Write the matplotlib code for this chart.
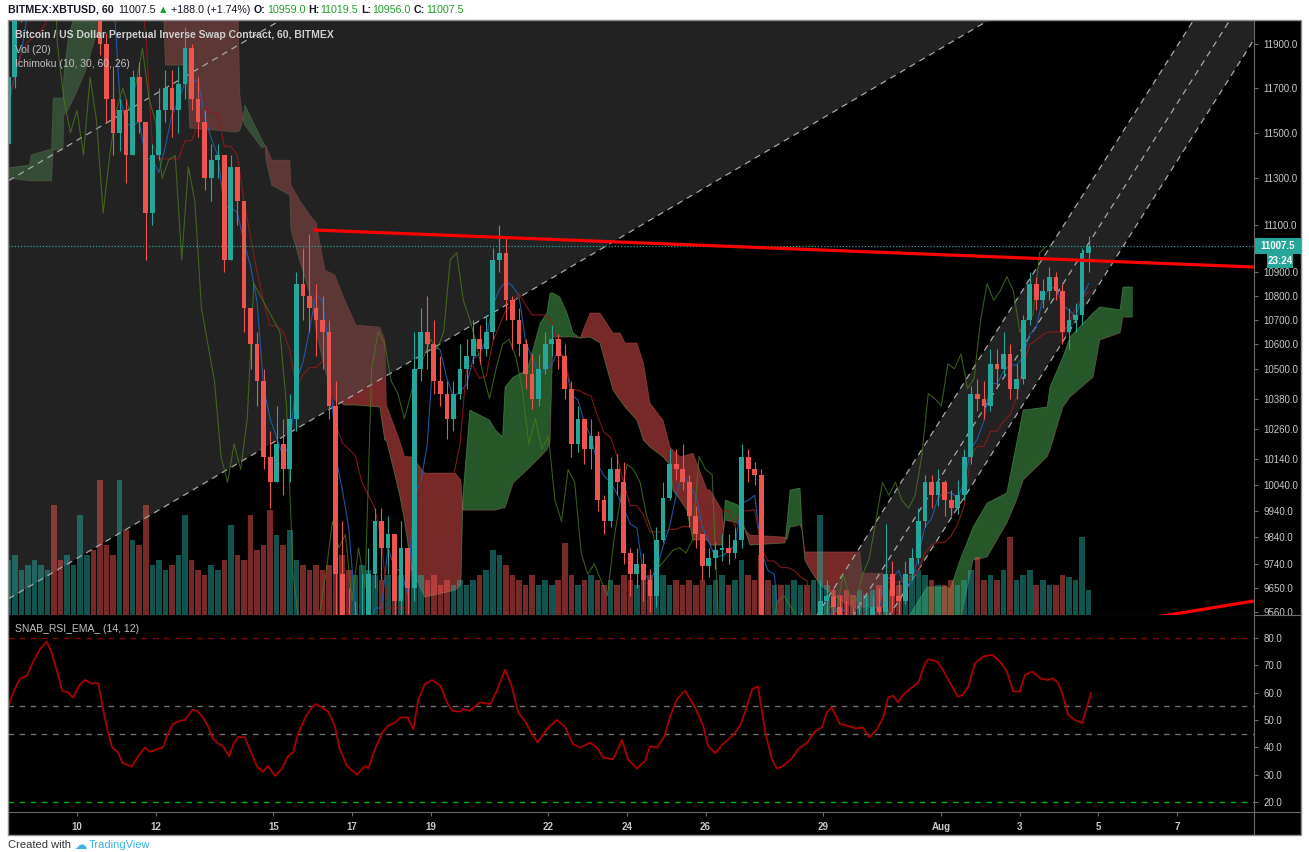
import numpy as np
import pandas as pd
import matplotlib
matplotlib.use("Agg")
import matplotlib.pyplot as plt
import matplotlib.transforms as mtransforms
from matplotlib.collections import PolyCollection, LineCollection
from matplotlib.patches import Rectangle
from matplotlib.lines import Line2D
from matplotlib.ticker import FixedLocator, FixedFormatter, NullLocator

plt.rcParams['font.family'] = ['Liberation Sans', 'DejaVu Sans']

# ---------------------------------------------------------------- DATA
# 4-hour bars; time measured in hours from Jul 8 2019 00:00
bar_hours = 4
first_bar_hour = 4
first_open = 11450

closes = [
    11750, 12050, 12250, 12300, 12350, 12400, 12500, 12450, 12300, 12350,
    12500, 12800, 13000, 12900, 11900, 11650, 11500, 11600, 11400, 11750,
    11550, 11150, 11400, 11600, 11700, 11600, 11720, 11880, 11650, 11550,
    11300, 11380, 11400, 10950, 11350, 11200, 10750, 10600, 10450, 10150,
    10050, 10200, 10100, 10300, 10850, 10800, 10750, 10700, 10650, 10350,
    9700, 9500, 9400, 9450, 9550, 9700, 9900, 9800, 9850, 9600,
    9800, 9650, 10500, 10650, 10600, 10450, 10400, 10300, 10400, 10500,
    10550, 10620, 10580, 10650, 10950, 10980, 10780, 10700, 10600, 10480,
    10380, 10500, 10600, 10620, 10550, 10420, 10200, 10300, 10180, 10230,
    9980, 9900, 10100, 10050, 9780, 9700, 9740, 9680, 9620, 9830,
    9990, 10120, 10100, 10050, 9920, 9850, 9730, 9760, 9790, 9800,
    9780, 9830, 10150, 10100, 10080, 9500, 9400, 9450, 9350, 9400,
    9450, 9500, 9420, 9480, 9600, 9620, 9580, 9540, 9520, 9500,
    9530, 9550, 9580, 9560, 9700, 9620, 9600, 9700, 9760, 9900,
    10050, 10000, 10050, 9980, 9950, 10000, 10150, 10400, 10380, 10350,
    10520, 10500, 10560, 10420, 10460, 10700, 10850, 10780, 10820, 10880,
    10820, 10650, 10700, 10720, 10980, 11007.5]

highs = [
    11800, 12100, 12300, 12400, 12450, 12500, 12600, 12550, 12500, 12450,
    12600, 12900, 13150, 13100, 12950, 11950, 11800, 11650, 11650, 11780,
    11820, 11550, 11450, 11700, 11780, 11780, 11800, 11980, 11900, 11750,
    11600, 11450, 11450, 11400, 11400, 11350, 11200, 10750, 10650, 10500,
    10250, 10350, 10300, 10400, 10900, 11000, 11060, 10850, 10800, 10700,
    10450, 9900, 9650, 9600, 9700, 9800, 9950, 9950, 9920, 9850,
    9900, 9800, 10650, 10750, 10800, 10700, 10550, 10450, 10450, 10600,
    10620, 10700, 10680, 10720, 11000, 11100, 11050, 10800, 10750, 10620,
    10560, 10560, 10650, 10680, 10640, 10600, 10450, 10350, 10300, 10300,
    10250, 10000, 10150, 10160, 10130, 9800, 9800, 9780, 9720, 9880,
    10050, 10180, 10180, 10200, 10080, 9960, 9850, 9800, 9820, 9850,
    9850, 9880, 10200, 10180, 10130, 10100, 9550, 9550, 9480, 9470,
    9520, 9560, 9530, 9540, 9680, 9680, 9650, 9620, 9600, 9580,
    9600, 9620, 9620, 9650, 9890, 9750, 9680, 9750, 9800, 9950,
    10080, 10080, 10100, 10060, 10020, 10060, 10180, 10430, 10460, 10450,
    10580, 10580, 10650, 10600, 10520, 10720, 10900, 10880, 10870, 10920,
    10900, 10850, 10750, 10770, 11000, 11050]

lows = [
    11420, 11700, 12000, 12200, 12250, 12300, 12350, 12350, 12250, 12250,
    12300, 12450, 12750, 12800, 11850, 11550, 11400, 11420, 11280, 11400,
    11500, 10950, 11100, 11380, 11550, 11480, 11500, 11650, 11600, 11480,
    11250, 11200, 11300, 10900, 10950, 11100, 10650, 10500, 10350, 10100,
    9950, 10050, 10000, 10050, 10250, 10700, 10650, 10550, 10500, 10300,
    9500, 9350, 9300, 9250, 9300, 9200, 9650, 9680, 9700, 9500,
    9550, 9350, 9600, 10450, 10500, 10400, 10350, 10220, 10250, 10380,
    10420, 10520, 10520, 10550, 10620, 10900, 10700, 10580, 10550, 10420,
    10340, 10350, 10480, 10550, 10500, 10380, 10150, 10170, 10120, 10100,
    9940, 9850, 9880, 10000, 9740, 9620, 9650, 9600, 9560, 9580,
    9820, 9980, 10060, 10020, 9880, 9800, 9680, 9690, 9720, 9750,
    9740, 9760, 9800, 10050, 10040, 9400, 9300, 9350, 9250, 9300,
    9350, 9400, 9380, 9400, 9450, 9550, 9520, 9480, 9460, 9450,
    9470, 9480, 9500, 9480, 9540, 9560, 9540, 9590, 9680, 9740,
    9880, 9950, 9960, 9920, 9920, 9930, 9980, 10120, 10330, 10300,
    10330, 10430, 10470, 10380, 10380, 10440, 10680, 10740, 10750, 10780,
    10780, 10600, 10580, 10650, 10680, 10900]

volumes = [
    55, 60, 45, 50, 55, 50, 45, 110, 55, 60,
    50, 100, 60, 65, 135, 70, 60, 135, 85, 75,
    70, 110, 50, 55, 45, 50, 60, 100, 55, 45,
    40, 50, 45, 55, 90, 60, 55, 100, 65, 70,
    105, 80, 70, 85, 55, 50, 45, 50, 45, 50,
    90, 60, 45, 40, 50, 45, 40, 35, 40, 45,
    40, 55, 70, 40, 35, 40, 30, 35, 30, 35,
    30, 35, 40, 45, 65, 60, 50, 40, 35, 30,
    40, 30, 35, 30, 35, 72, 40, 30, 35, 40,
    35, 30, 35, 30, 40, 35, 30, 35, 40, 35,
    40, 30, 35, 30, 35, 30, 35, 30, 35, 40,
    30, 35, 55, 40, 35, 60, 35, 30, 30, 30,
    35, 30, 30, 35, 100, 30, 25, 20, 25, 20,
    25, 20, 25, 30, 40, 25, 30, 35, 40, 45,
    40, 35, 30, 30, 35, 30, 35, 45, 58, 35,
    40, 35, 45, 78, 35, 40, 45, 30, 35, 30,
    30, 40, 38, 35, 78, 25]

# Ichimoku cloud: (hour, leading span A, leading span B)
cloud_points = [
    (6, 11345, 11301), (19, 11358, 11288), (20, 11402, 11288), (32.5, 11428, 11288),
    (33.5, 11655, 11424), (39.5, 11655, 11424), (40, 11759, 11579), (42.5, 11919, 11601),
    (47, 12050, 11669), (53, 12200, 11772), (62, 12400, 12000), (86, 12500, 12200),
    (100, 12250, 12250), (102, 11804, 12350), (115, 11804, 12350), (117, 11521, 12300),
    (146, 11503, 12200), (147.5, 11512, 11669), (149.5, 11560, 11560), (150.5, 11624, 11534),
    (161, 11468, 11432), (163, 11441, 11441), (163.5, 11379, 11441), (167, 11270, 11379),
    (178, 11227, 11379), (178.7, 11077, 11270), (184, 10949, 11205), (191.5, 10782, 11128),
    (194, 10658, 11111), (199.5, 10495, 10907), (205.5, 10374, 10886), (211.5, 10354, 10782),
    (218.5, 10354, 10678), (233, 10346, 10670), (236, 10215, 10617), (237, 10215, 10354),
    (245, 10005, 10215), (248, 9905, 10152), (252.5, 9716, 10149), (260.5, 9615, 10086),
    (279, 9641, 10086), (282.5, 9660, 10059), (283.8, 10001, 9943), (288, 10334, 9943),
    (300, 10294, 9943), (303.5, 10255, 9943), (308, 10227, 9951), (309.5, 10426, 9951),
    (314.5, 10466, 10048), (323, 10495, 10098), (331, 10686, 10149), (335, 10728, 10176),
    (337, 10811, 10203), (338.8, 10811, 10629), (343, 10794, 10629), (347.3, 10728, 10629),
    (351, 10646, 10629), (355.3, 10625, 10625), (361.4, 10629, 10728), (367.5, 10605, 10728),
    (375.4, 10414, 10646), (379.7, 10374, 10646), (382.8, 10346, 10605), (390, 10294, 10605),
    (394, 10215, 10524), (398, 10188, 10362), (406, 10149, 10294), (410.3, 10117, 10188),
    (412, 10020, 10176), (416.5, 9982, 10149), (420.5, 9943, 10156), (424.3, 9829, 10164),
    (433, 9829, 10020), (434.7, 9810, 10020), (442, 9810, 9943), (443, 9870, 9870),
    (444, 9982, 9905), (452, 9962, 9893), (456, 9870, 9870), (459, 9810, 9848),
    (480.5, 9818, 9840), (481.7, 9893, 9829), (483.6, 10020, 9878), (489.7, 10028, 9886),
    (491, 9867, 9867), (492.7, 9753, 9784), (496, 9716, 9784), (502, 9660, 9784),
    (514, 9604, 9784), (526.3, 9567, 9784), (527.6, 9578, 9704), (540.4, 9578, 9704),
    (544.7, 9450, 9520), (549, 9485, 9485), (553.8, 9520, 9450), (567.3, 9653, 9500),
    (579.5, 9653, 9500), (581.3, 9641, 9500), (587.4, 9753, 9520), (595.4, 9878, 9753),
    (604, 9970, 9765), (616, 10009, 9893), (622, 10203, 9982), (626, 10334, 10059),
    (640.6, 10346, 10149), (642.4, 10426, 10176), (650.3, 10548, 10346), (654.6, 10629, 10386),
    (668.7, 10728, 10466), (672.9, 10753, 10617), (685.2, 10741, 10646), (687, 10836, 10711),
    (693, 10836, 10711)]

# SNAB_RSI_EMA line: (hour, value)
rsi_points = [
    (6, 54.6), (9, 60), (13, 65), (17.5, 66.2), (21, 71), (25.5, 76), (29.5, 78.7),
    (32.5, 74.7), (36, 67.4), (39, 60.7), (42.5, 60), (45.5, 58.2), (50, 63.1), (53, 64.6),
    (57, 63.4), (61, 63.4), (63.5, 55.2), (66.5, 46.6), (69.5, 39.9), (73, 38.1), (76, 34.2),
    (81.5, 32.9), (85.5, 36.8), (89.5, 39.9), (92.5, 38.3), (97, 39.3), (100.5, 39.9),
    (103, 44.2), (106.5, 48.5), (111, 49.7), (114, 50), (118.5, 53.7), (121.5, 53.3),
    (125, 50.9), (128, 47.8), (131, 43.2), (134, 41.4), (137, 40.5), (141, 36.6), (143.5, 41.1),
    (146.5, 43.8), (150.5, 43.6), (153.5, 39.3), (158, 32.9), (161.5, 31), (164.5, 33.2),
    (169, 29.5), (173, 32), (177, 36.8), (180, 38.1), (183, 44.8), (187.5, 50.9), (191.5, 54.6),
    (193.5, 55.8), (197.5, 54.6), (201.5, 53), (205.5, 47.8), (208.5, 39.3), (213, 33.2),
    (219, 29.9), (224, 33.2), (226, 32.2), (230, 39.3), (234.5, 45.4), (238, 47.8), (242.5, 49.1),
    (245.5, 50.9), (250, 50.9), (253.5, 46.6), (256.5, 57.6), (260.5, 63.1), (265, 64.6),
    (270, 62.5), (274.5, 55.8), (277.5, 53.3), (282, 53), (284, 54), (288, 53.3), (294, 56.4),
    (300.5, 55.8), (304.5, 60.7), (309.5, 68.4), (313.5, 62.5), (317.5, 52.7), (321.5, 49.7),
    (326, 44.8), (329.5, 41.7), (335, 46.6), (341, 50), (346, 47.6), (351, 41.1), (355.5, 39.9),
    (361.5, 41.7), (365.5, 39.9), (369.5, 36.2), (375.5, 35.6), (381, 42.7), (384.5, 35.6),
    (390, 32.2), (395, 35), (398, 40.3), (402.5, 39.9), (407, 44.2), (410.5, 51.5), (414.5, 57.6),
    (419.5, 60.7), (425.5, 54.6), (430.5, 47.8), (433.5, 40.5), (438, 37.8), (442.5, 41.1),
    (448.5, 44.2), (453, 47.8), (456, 52.7), (460.5, 61.3), (464, 62.3), (468.5, 45.4),
    (472.5, 35.6), (475.5, 32.2), (479.5, 33.2), (485, 36.2), (488.5, 39.3), (494, 41.7),
    (499, 46), (503, 47.2), (506, 52.7), (509, 54.6), (514, 48.5), (519, 47.8), (523.5, 46.9),
    (528, 47.2), (532, 43.6), (536.5, 46.4), (540.5, 50.9), (543.5, 58.2), (546.5, 58.9),
    (549.5, 56.4), (552.5, 59.1), (558, 61.9), (562, 63.7), (566, 70.7), (568, 72.2),
    (573.5, 71.3), (577, 68.3), (581.5, 63.4), (586, 58.5), (589, 59.1), (592.5, 62.2),
    (596.5, 70.7), (601.5, 73.2), (607, 73.8), (612, 71.3), (616, 67.7), (620, 60.4),
    (624, 60.4), (627, 66.5), (631.5, 67.7), (636.5, 65.2), (641, 64.6), (644, 65.2),
    (647.5, 63.4), (650.5, 58.5), (653.5, 51.8), (657.5, 50), (662, 48.8), (665, 54.9),
    (667.5, 59.8)]

day_tick_hours = [48, 96, 168, 216, 264, 336, 384, 432, 504, 576, 624, 672, 720]
day_tick_labels = ['10', '12', '15', '17', '19', '22', '24', '26', '29', 'Aug', '3', '5', '7']
price_ticks = [9560, 9650, 9740, 9840, 9940, 10040, 10140, 10260, 10380, 10500,
               10600, 10700, 10800, 10900, 11100, 11300, 11500, 11700, 11900]
rsi_ticks = [20, 30, 40, 50, 60, 70, 80]
rsi_levels = [80, 55, 45, 20]

last_price = 11007.5
bar_countdown = '23:24'

# drawings (hour, price)
resistance_line = [(192.2, 11077), (767.0, 10920)]
support_line = [(703.5, 9538), (767.0, 9601)]
left_channel = [(5.9, 9608), (605.1, 12011)]
left_channel_ratio = 1.3803
right_channel = [(500.1, 9549), (730.1, 12011)]
right_channel_ratio = 1.0453

header_runs = [("BITMEX:XBTUSD, 60", 'dark', 'bold', 4),
               ("11007.5", 'dark', 'normal', 3),
               ("\u25B2", 'green', 'normal', 2),
               ("+188.0 (+1.74%)", 'dark', 'normal', 4),
               ("O:", 'dark', 'bold', 1), ("10959.0", 'green', 'normal', 3),
               ("H:", 'dark', 'bold', 1), ("11019.5", 'green', 'normal', 3),
               ("L:", 'dark', 'bold', 1), ("10956.0", 'green', 'normal', 3),
               ("C:", 'dark', 'bold', 1), ("11007.5", 'green', 'normal', 0)]

# ---------------------------------------------------------------- STYLE
UP = '#26a69a'
DOWN = '#ef5350'
TXT = '#c8c8c8'
W, H = 1309, 852


def fx(px):
    return px / W


def fy(py):
    return 1 - py / H


fig = plt.figure(figsize=(W / 100, H / 100), dpi=100)
fig.patch.set_facecolor('white')

fig.add_artist(Rectangle((fx(8), fy(835)), fx(1301) - fx(8), fy(20) - fy(835),
                         transform=fig.transFigure, facecolor='black',
                         edgecolor='none', zorder=-5))

ax = fig.add_axes([fx(8), fy(615), fx(1254) - fx(8), fy(20) - fy(615)])
ax2 = fig.add_axes([fx(8), fy(812), fx(1254) - fx(8), fy(615) - fy(812)], sharex=ax)
for a in (ax, ax2):
    a.set_facecolor('black')
    for s in a.spines.values():
        s.set_visible(False)
    a.spines['right'].set_visible(True)
    a.spines['right'].set_color('#6a6a6a')
    a.spines['bottom'].set_visible(True)
    a.spines['bottom'].set_color('#6a6a6a')

ax.set_yscale('log')
ax.set_xlim(5.86, 767.0)
ax.set_ylim(9549, 12011)

# ---------------------------------------------------------------- derived series
n = len(closes)
centers = np.array([first_bar_hour + bar_hours * i + bar_hours / 2 for i in range(n)])
c = np.array(closes, float)
o = np.concatenate([[first_open], c[:-1]])
hi = np.maximum(np.array(highs, float), np.maximum(o, c))
lo = np.minimum(np.array(lows, float), np.minimum(o, c))
up = c >= o

# ---------------------------------------------------------------- cloud
cp = np.array(cloud_points, float)
ch, ca, cb = cp[:, 0], cp[:, 1], cp[:, 2]
ax.fill_between(ch, ca, cb, where=ca >= cb, interpolate=True, color='#4caf50',
                alpha=0.5, lw=0, zorder=1)
ax.fill_between(ch, ca, cb, where=ca < cb, interpolate=True, color='#ef5350',
                alpha=0.5, lw=0, zorder=1)
ax.plot(ch, ca, color='#66bb6a', lw=0.6, alpha=0.45, zorder=1.2)
ax.plot(ch, cb, color='#e57373', lw=0.6, alpha=0.35, zorder=1.2)


# ---------------------------------------------------------------- channels
def line_at(pts, h):
    (h1, p1), (h2, p2) = pts
    return np.exp(np.log(p1) + (np.asarray(h) - h1) * (np.log(p2) - np.log(p1)) / (h2 - h1))


DASH = dict(color='#a8a8a8', lw=0.9, dashes=(5, 4), zorder=4)

hs = np.array([0.0, 760.0])
low = line_at(left_channel, hs)
upp = low * left_channel_ratio
ax.fill([hs[0], hs[1], hs[1], hs[0]], [low[0], low[1], upp[1], upp[0]],
        color='#444444', alpha=0.5, lw=0, zorder=2)
ax.plot(hs, low, **DASH)
ax.plot(hs, low * np.sqrt(left_channel_ratio), **DASH)

hs = np.array([470.0, 780.0])
upl = line_at(right_channel, hs)
lwr = upl / right_channel_ratio
ax.fill([hs[0], hs[1], hs[1], hs[0]], [lwr[0], lwr[1], upl[1], upl[0]],
        color='#444444', alpha=0.5, lw=0, zorder=2)
ax.plot(hs, upl, **DASH)
ax.plot(hs, lwr, **DASH)
ax.plot(hs, upl / np.sqrt(right_channel_ratio), **DASH)

# ---------------------------------------------------------------- volume
vol = np.array(volumes, float)
vfrac = vol / vol.max() * 0.227
blend = mtransforms.blended_transform_factory(ax.transData, ax.transAxes)
vw = 1.7
vverts = [[(x - vw, 0), (x + vw, 0), (x + vw, v), (x - vw, v)] for x, v in zip(centers, vfrac)]
vcols = [(0.149, 0.651, 0.604, 0.5) if u else (0.937, 0.325, 0.314, 0.5) for u in up]
ax.add_collection(PolyCollection(vverts, facecolors=vcols, edgecolors='none',
                                 transform=blend, zorder=3), autolim=False)

# ---------------------------------------------------------------- ichimoku lines
s_hi, s_lo = pd.Series(hi), pd.Series(lo)
conv = (s_hi.rolling(3, min_periods=1).max() + s_lo.rolling(3, min_periods=1).min()) / 2
base = (s_hi.rolling(8, min_periods=1).max() + s_lo.rolling(8, min_periods=1).min()) / 2
ax.plot(centers, conv, color='#1f5fb0', lw=0.8, alpha=0.9, zorder=4)
ax.plot(centers, base, color='#8e1b1b', lw=0.8, alpha=0.9, zorder=4)
ax.plot(centers - 26, c, color='#4b7a1f', lw=0.8, alpha=0.75, zorder=4)

# ---------------------------------------------------------------- candles
bw = 1.45
colors = [UP if u else DOWN for u in up]
wicks = [[(x, l), (x, h)] for x, l, h in zip(centers, lo, hi)]
ax.add_collection(LineCollection(wicks, colors=colors, linewidths=0.8, zorder=5), autolim=False)
bodies = []
for x, oo, cc in zip(centers, o, c):
    b0, b1 = min(oo, cc), max(oo, cc)
    if b1 / b0 < 1.0006:
        b1 = b0 * 1.0006
    bodies.append([(x - bw, b0), (x + bw, b0), (x + bw, b1), (x - bw, b1)])
ax.add_collection(PolyCollection(bodies, facecolors=colors, edgecolors='none', zorder=5),
                  autolim=False)

# ---------------------------------------------------------------- trend lines
rh = np.array([p[0] for p in resistance_line])
ax.plot(rh, line_at(resistance_line, rh), color='#ff0000', lw=2.3, zorder=6,
        solid_capstyle='butt')
sh = np.array([p[0] for p in support_line])
ax.plot(sh, line_at(support_line, sh), color='#ff0000', lw=2.3, zorder=6,
        solid_capstyle='butt')

ax.axhline(last_price, color=UP, lw=0.9, ls=(0, (1, 1.5)), zorder=4)

# ---------------------------------------------------------------- main axis ticks
ax.yaxis.set_major_locator(FixedLocator(price_ticks))
ax.yaxis.set_major_formatter(FixedFormatter([f"{p:.1f}" for p in price_ticks]))
ax.yaxis.set_minor_locator(NullLocator())
ax.yaxis.tick_right()
ax.tick_params(axis='y', which='both', direction='out', length=3, color='#6a6a6a',
               labelcolor=TXT, labelsize=7, pad=4)
ax.set_xticks(day_tick_hours)
ax.tick_params(axis='x', which='both', length=0, labelbottom=False)

# ---------------------------------------------------------------- RSI panel
rp = np.array(rsi_points, float)
ax2.set_ylim(16.3, 88.4)
rcol = {80: '#8b0000', 55: '#707070', 45: '#707070', 20: '#00b000'}
for lvl in rsi_levels:
    ax2.axhline(lvl, color=rcol[lvl], lw=1.0, dashes=(4, 4), zorder=2)
ax2.plot(rp[:, 0], rp[:, 1], color='#aa0000', lw=1.3, zorder=4)
ax2.set_yticks(rsi_ticks)
ax2.set_yticklabels([f"{v:.1f}" for v in rsi_ticks])
ax2.yaxis.tick_right()
ax2.tick_params(axis='y', direction='out', length=3, color='#6a6a6a', labelcolor=TXT,
                labelsize=7, pad=4)
ax2.set_xticks(day_tick_hours)
ax2.set_xticklabels(day_tick_labels)
ax2.tick_params(axis='x', direction='out', length=3, color='#6a6a6a', labelcolor=TXT,
                labelsize=7, pad=4)
for t in ax2.get_xticklabels():
    t.set_fontweight('bold')

# ---------------------------------------------------------------- frame lines
for (x0, y0, x1, y1) in [(1254, 615, 1301, 615), (1254, 812, 1301, 812),
                         (1254, 812, 1254, 835)]:
    fig.add_artist(Line2D([fx(x0), fx(x1)], [fy(y0), fy(y1)], transform=fig.transFigure,
                          color='#6a6a6a', lw=0.8, zorder=8))
fig.add_artist(Rectangle((fx(8), fy(835)), fx(1301) - fx(8), fy(20) - fy(835),
                         transform=fig.transFigure, facecolor='none',
                         edgecolor='#8f8f8f', lw=1.0, zorder=10))

# ---------------------------------------------------------------- price boxes
fig.add_artist(Rectangle((fx(1255), fy(254)), fx(1301) - fx(1255), fy(238) - fy(254),
                         transform=fig.transFigure, facecolor=UP, edgecolor='none', zorder=11))
fig.text(fx(1278), fy(246), f"{last_price:.1f}", color='white', fontsize=7,
         fontweight='bold', ha='center', va='center', zorder=12)
fig.add_artist(Rectangle((fx(1267), fy(268)), fx(1293) - fx(1267), fy(254) - fy(268),
                         transform=fig.transFigure, facecolor=UP, edgecolor='none', zorder=11))
fig.text(fx(1280), fy(261), bar_countdown, color='white', fontsize=7,
         fontweight='bold', ha='center', va='center', zorder=12)

# ---------------------------------------------------------------- legends
fig.text(fx(15), fy(35), "Bitcoin / US Dollar Perpetual Inverse Swap Contract, 60, BITMEX",
         color='#d0d0d0', fontsize=7.5, fontweight='bold', va='center', zorder=12)
fig.text(fx(15), fy(50), "Vol (20)", color='#c0c0c0', fontsize=7.5, va='center', zorder=12)
fig.text(fx(15), fy(64), "Ichimoku (10, 30, 60, 26)", color='#c0c0c0', fontsize=7.5,
         va='center', zorder=12)
fig.text(fx(15), fy(629), "SNAB_RSI_EMA_ (14, 12)", color='#c0c0c0', fontsize=7.5,
         va='center', zorder=12)

# ---------------------------------------------------------------- header
renderer = fig.canvas.get_renderer()
cmap = {'dark': '#131722', 'green': '#1f9e2a'}
xpos = 8
for txt, col, wt, gap in header_runs:
    t = fig.text(fx(xpos), fy(10), txt, color=cmap[col], fontsize=7.7, fontweight=wt,
                 va='center', ha='left')
    xpos += t.get_window_extent(renderer=renderer).width + gap

# footer (kept fully inside the canvas)
t = fig.text(fx(8), fy(845), "Created with", color='#333333', fontsize=8, va='center')
xe = 8 + t.get_window_extent(renderer=renderer).width + 3
t2 = fig.text(fx(xe), fy(845), "\u2601", color='#3bb3e4', fontsize=9, va='center',
              family=['DejaVu Sans'])
xe += t2.get_window_extent(renderer=renderer).width + 2
fig.text(fx(xe), fy(845), "TradingView", color='#3bb3e4', fontsize=8, va='center')

fig.savefig('out.png', dpi=100, facecolor='white')
